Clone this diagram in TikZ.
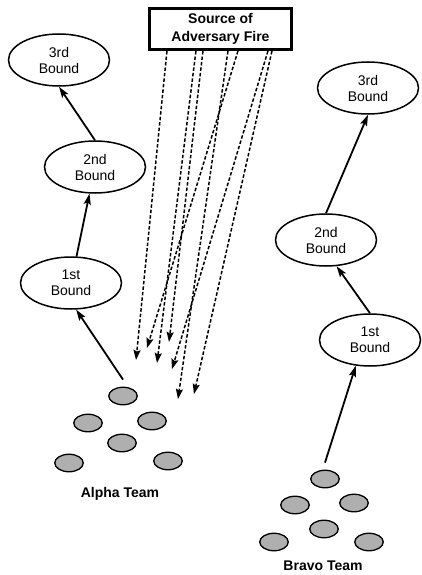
\documentclass[tikz,border=0pt]{standalone}
\usepackage{fontspec}
\setmainfont{Liberation Sans}
\usetikzlibrary{shapes.geometric,arrows.meta}
\definecolor{teamgray}{RGB}{175,175,175}
\begin{document}
\begin{tikzpicture}[x=1pt,y=-1pt,
  bound/.style={draw,ellipse,line width=1.5pt,minimum width=101pt,minimum height=52pt,inner sep=0pt,align=center,font=\fontsize{14}{16}\selectfont},
  member/.style={draw,ellipse,fill=teamgray,line width=1.3pt,minimum width=28.5pt,minimum height=17.5pt,inner sep=0pt},
  srcbox/.style={draw,line width=2.6pt,minimum width=142.5pt,minimum height=41.5pt,inner sep=0pt,align=center,font=\bfseries\fontsize{14}{18}\selectfont},
  move/.style={line width=1.8pt,-{Stealth[length=11pt,width=7pt,inset=2pt]}},
  fire/.style={line width=1.5pt,dash pattern=on 3.5pt off 2pt,-{Stealth[length=10pt,width=7pt,inset=1.5pt]}},
  teamlabel/.style={font=\bfseries\fontsize{14}{16}\selectfont}]
\useasboundingbox (0,0) rectangle (421,575);

% source box
\node[srcbox] (src) at (220.5,29) {Source of\\Adversary Fire};

% Alpha bounds
\node[bound] (la3) at (59,60) {3rd\\Bound};
\node[bound] (la2) at (95,167) {2nd\\Bound};
\node[bound] (la1) at (71,283) {1st\\Bound};

% Bravo bounds
\node[bound] (rb3) at (368,88) {3rd\\Bound};
\node[bound] (rb2) at (326,240) {2nd\\Bound};
\node[bound] (rb1) at (370,340) {1st\\Bound};

% Alpha team
\node[member] (a1) at (123,396) {};
\node[member] (a2) at (88,423) {};
\node[member] (a3) at (152,421) {};
\node[member] (a4) at (122,443) {};
\node[member] (a5) at (69,463) {};
\node[member] (a6) at (168,461) {};
\node[teamlabel] (alpha) at (120,494) {Alpha Team};

% Bravo team
\node[member] (b1) at (325,479) {};
\node[member] (b2) at (295,505) {};
\node[member] (b3) at (354,503) {};
\node[member] (b4) at (324,529) {};
\node[member] (b5) at (274,542) {};
\node[member] (b6) at (369,542) {};
\node[teamlabel] (bravo) at (323,566) {Bravo Team};

% movement arrows
\draw[move] ([yshift=7pt]a1.north) -- (la1.-79);
\draw[move] (la1) -- (la2);
\draw[move] (la2.north) -- (la3.south);
\draw[move] ([yshift=7pt]b1.north) -- (rb1.-119);
\draw[move] (rb1.north) -- (rb2.-68);
\draw[move] (rb2.north) -- (rb3.south);

% fire end points
\coordinate (e1) at (136,360);
\coordinate (e2) at (147,348);
\coordinate (e3) at (157,363);
\coordinate (e4) at (169,342);
\coordinate (e5) at (172,369);
\coordinate (e6) at (178,399);
\coordinate (e7) at (194,394);

% fire lines
\draw[fire] ([xshift=19pt]src.south west) -- (e1);
\draw[fire] ([xshift=48pt]src.south west) -- (e3);
\draw[fire] ([xshift=55pt]src.south west) -- (e4);
\draw[fire] ([xshift=80pt]src.south west) -- (e6);
\draw[fire] ([xshift=90pt]src.south west) -- (e2);
\draw[fire] ([xshift=120pt]src.south west) -- (e5);
\draw[fire] ([xshift=124pt]src.south west) -- (e7);
\end{tikzpicture}
\end{document}
